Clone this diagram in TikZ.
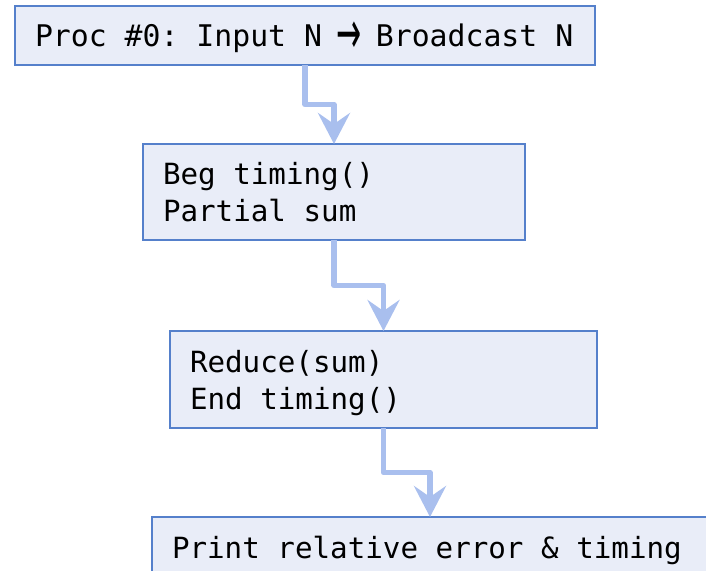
\documentclass[tikz,border=0pt]{standalone}
\usepackage{fontspec}
\setmonofont{DejaVu Sans Mono}
\newfontfamily\symsans{DejaVu Sans}
\usetikzlibrary{arrows.meta,calc}
\definecolor{boxfill}{HTML}{E9EDF8}
\definecolor{boxline}{HTML}{5580CB}
\definecolor{flow}{HTML}{A9BFEE}
% wide-headed arrow glyph, centred in one monospaced cell
\newcommand\castarrow{\makebox[0.602em]{\smash{\raisebox{-6.5pt}{\scalebox{0.5}[1]{\symsans\fontsize{60}{37}\selectfont →}}}}}
\begin{document}
\begin{tikzpicture}[x=1pt,y=-1pt,
  stepbox/.style={draw=boxline, line width=1.1pt, fill=boxfill, anchor=north west,
    inner xsep=20pt, inner ysep=0pt, outer sep=0pt, align=left,
    font=\ttfamily\fontsize{29.2}{37}\selectfont,
    % keep the full monospaced word space inside aligned text
    execute at begin node={\spaceskip=0pt\xspaceskip=0pt\relax}},
  oneline/.style={text depth=0pt},
  twoline/.style={text depth=37pt},
  flowarrow/.style={draw=flow, line width=5.5pt, line join=round,
    -{Stealth[length=31pt,width=32pt,inset=11pt]}}]
\clip (0,0) rectangle (706,570);
\useasboundingbox (0,0) rectangle (706,570);

% process boxes
\node[stepbox, oneline, minimum width=580pt, minimum height=59pt, text width=540pt,
      font=\ttfamily\fontsize{29.8}{37}\selectfont] (bcast) at (15,6)
  {Proc \#0: Input N \castarrow{} Broadcast N};
\node[stepbox, twoline, minimum width=382pt, minimum height=96pt, text width=342pt] (partial) at (143,144)
  {Beg timing()\\Partial sum};
\node[stepbox, twoline, minimum width=427pt, minimum height=97pt, text width=387pt] (reduce) at (170,331)
  {Reduce(sum)\\End timing()};
\node[stepbox, oneline, minimum width=556pt, minimum height=60pt, text width=516pt] (report) at (152,517)
  {Print relative error \& timing};

% stepped connectors between box centres
\draw[flowarrow] (bcast.south) |- ($(bcast.south)!.5!(partial.north)$) -| (partial.north);
\draw[flowarrow] (partial.south) |- ($(partial.south)!.5!(reduce.north)$) -| (reduce.north);
\draw[flowarrow] (reduce.south) |- ($(reduce.south)!.5!(report.north)$) -| (report.north);
\end{tikzpicture}
\end{document}
